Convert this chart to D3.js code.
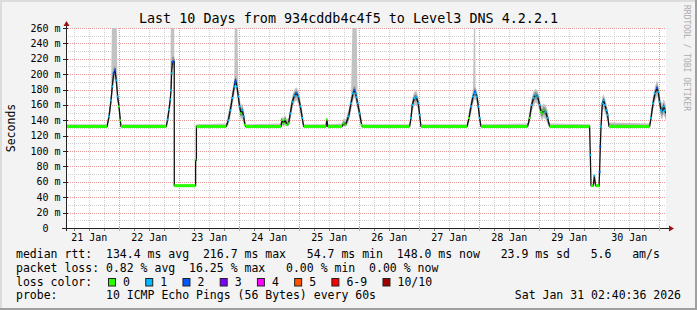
<!DOCTYPE html>
<html>
<head>
<meta charset="utf-8">
<script src="https://cdn.jsdelivr.net/npm/d3@7"></script>
<style>
  html, body { margin: 0; padding: 0; background: #f3f3f3; }
  svg text { font-family: "DejaVu Sans Mono", monospace; white-space: pre; }
</style>
</head>
<body>
<svg id="chart" width="697" height="310"></svg>
<script>
const W = 697, H = 310;

const title = "Last 10 Days from 934cddb4c4f5 to Level3 DNS 4.2.2.1";
const rangeStart = "2026-01-21 02:40:36";
const rangeEnd = "2026-01-31 02:40:36";
const yMax = 260;
const dayLabels = ["21 Jan", "22 Jan", "23 Jan", "24 Jan", "25 Jan", "26 Jan", "27 Jan", "28 Jan", "29 Jan", "30 Jan"];
const lossLabels = ["0", "1", "2", "3", "4", "5", "6-9", "10/10"];
const lossColors = ["#26ff00", "#00b8ff", "#0059ff", "#7e00ff", "#ff00ff", "#ff5500", "#ff0000", "#a10000"];
const statsLine = "median rtt:  134.4 ms avg  216.7 ms max   54.7 ms min  148.0 ms now   23.9 ms sd   5.6   am/s";
const lossLine = "packet loss: 0.82 % avg  16.25 % max   0.00 % min  0.00 % now";
const probeLine = "probe:       10 ICMP Echo Pings (56 Bytes) every 60s";
const stampLine = "Sat Jan 31 02:40:36 2026";

// [time "DD HH:MM", median ms, loss level, smoke low ms, smoke high ms]
const jan21 = [
  ["21 02:40", 132, 0, 131, 135], ["21 19:05", 132, 0, 131, 135], ["21 19:53", 145, 1, 137, 152],
  ["21 20:41", 166, 1, 156, 175], ["21 21:12", 184, 1, 174, 300], ["21 21:43", 201, 2, 190, 300],
  ["21 22:17", 205, 2, 194, 300], ["21 22:48", 192, 1, 182, 300], ["21 23:19", 171, 1, 162, 181],
  ["21 23:53", 158, 0, 149, 167]
];
const jan22 = [
  ["22 00:24", 140, 0, 134, 148], ["22 00:41", 132, 0, 131, 135], ["22 18:48", 132, 0, 131, 135],
  ["22 19:19", 141, 1, 136, 148], ["22 19:53", 154, 1, 146, 162], ["22 20:24", 167, 1, 158, 176],
  ["22 20:41", 179, 1, 170, 300], ["22 20:55", 201, 1, 190, 300], ["22 21:12", 216, 2, 206, 300],
  ["22 21:43", 216.7, 2, 208, 300], ["22 21:58", 216.7, 2, 208, 300], ["22 22:00", 55, 0, 54.7, 57]
];
const jan23 = [
  ["23 06:31", 55, 0, 54.7, 57], ["23 06:32", 88, 0, 88, 88], ["23 06:50", 88, 0, 88, 88],
  ["23 06:51", 132, 0, 131, 135], ["23 18:48", 132, 0, 131, 136], ["23 19:36", 140, 1, 134, 150],
  ["23 20:24", 153, 1, 144, 163], ["23 21:12", 169, 1, 159, 179], ["23 22:00", 184, 1, 174, 194],
  ["23 22:15", 189, 2, 179, 300], ["23 22:31", 191.5, 2, 182, 300], ["23 23:05", 184, 1, 174, 300],
  ["23 23:36", 171, 1, 161, 180]
];
const jan24 = [
  ["24 00:07", 158, 1, 148, 168], ["24 00:41", 149, 0, 140, 160], ["24 01:12", 153, 1, 143, 162],
  ["24 01:43", 145, 1, 136, 154], ["24 02:17", 134, 0, 132, 141], ["24 02:31", 132, 0, 131, 135],
  ["24 16:40", 132, 0, 131, 136], ["24 17:00", 140, 0, 134, 145], ["24 17:40", 136, 0, 132, 143],
  ["24 18:20", 141, 0, 134, 147], ["24 19:00", 134, 0, 132, 141], ["24 19:43", 136, 0, 132, 143],
  ["24 20:24", 149, 1, 140, 158], ["24 21:12", 164, 1, 154, 172], ["24 22:00", 172, 1, 163, 180],
  ["24 22:48", 175, 2, 166, 183], ["24 23:36", 171, 1, 162, 179]
];
const jan25 = [
  ["25 00:24", 158, 1, 148, 167], ["25 01:12", 143, 1, 136, 152], ["25 01:43", 132, 0, 131, 135],
  ["25 10:40", 132, 0, 131, 135], ["25 11:00", 141, 0, 132, 145], ["25 11:25", 132, 0, 131, 135],
  ["25 17:05", 132, 0, 131, 136], ["25 17:40", 136, 0, 132, 142], ["25 18:30", 134, 0, 132, 141],
  ["25 19:43", 145, 1, 137, 154], ["25 20:41", 162, 1, 152, 172], ["25 21:29", 175, 1, 165, 300],
  ["25 22:00", 179, 2, 170, 300], ["25 22:31", 175, 1, 166, 300], ["25 22:48", 170, 1, 161, 300],
  ["25 23:19", 162, 1, 153, 170]
];
const jan26 = [
  ["26 00:07", 149, 1, 140, 158], ["26 00:55", 134, 0, 132, 141], ["26 01:12", 132, 0, 131, 135],
  ["26 20:07", 132, 0, 131, 135], ["26 20:41", 143, 1, 136, 152], ["26 21:12", 160, 1, 150, 168],
  ["26 22:00", 169, 1, 159, 177], ["26 22:48", 170, 1, 160, 178], ["26 23:36", 162, 1, 153, 170]
];
const jan27 = [
  ["27 00:07", 147, 1, 139, 156], ["27 00:41", 132, 0, 131, 135], ["27 19:05", 132, 0, 131, 135],
  ["27 19:53", 143, 0, 136, 152], ["27 20:41", 158, 1, 148, 167], ["27 21:29", 171, 1, 161, 179],
  ["27 22:00", 175, 1, 166, 300], ["27 22:17", 177, 2, 168, 300], ["27 22:30", 175, 1, 166, 183],
  ["27 23:05", 171, 1, 162, 179], ["27 23:36", 158, 1, 149, 167]
];
const jan28 = [
  ["28 00:07", 143, 1, 136, 152], ["28 00:41", 132, 0, 131, 135], ["28 19:19", 132, 0, 131, 136],
  ["28 20:07", 143, 0, 136, 152], ["28 20:55", 160, 1, 150, 169], ["28 21:43", 169, 1, 159, 178],
  ["28 22:31", 173, 1, 163, 181], ["28 23:19", 171, 1, 161, 179]
];
const jan29 = [
  ["29 00:07", 160, 1, 150, 169], ["29 00:41", 151, 0, 142, 160], ["29 01:12", 149, 0, 140, 159],
  ["29 01:43", 153, 0, 144, 162], ["29 02:31", 151, 1, 141, 160], ["29 03:19", 143, 1, 135, 153],
  ["29 04:07", 132, 0, 131, 136], ["29 20:07", 132, 0, 131, 135], ["29 20:24", 95, 1, 95, 95],
  ["29 20:41", 55, 0, 54.7, 57], ["29 21:36", 55, 0, 54.7, 57], ["29 22:00", 68, 1, 60, 68],
  ["29 22:31", 55, 0, 54.7, 57], ["29 23:53", 55, 0, 54.7, 57]
];
const jan30 = [
  ["30 00:07", 73, 2, 73, 73], ["30 00:24", 106, 2, 106, 106], ["30 00:41", 132, 1, 130, 142],
  ["30 01:12", 162, 1, 150, 170], ["30 01:43", 166, 1, 155, 174], ["30 02:17", 160, 1, 150, 169],
  ["30 02:48", 153, 1, 144, 162], ["30 03:19", 147, 1, 138, 156], ["30 03:53", 132, 0, 131, 137],
  ["30 20:07", 132, 0, 131, 136], ["30 20:41", 143, 1, 136, 152], ["30 21:29", 162, 1, 152, 172],
  ["30 22:17", 175, 1, 165, 184], ["30 23:05", 182, 2, 172, 192], ["30 23:36", 177, 1, 167, 186]
];
const jan31 = [
  ["31 00:07", 164, 1, 154, 174], ["31 00:41", 153, 1, 143, 164], ["31 01:12", 151, 1, 141, 162],
  ["31 01:43", 158, 1, 148, 167], ["31 02:17", 153, 1, 143, 164], ["31 02:40", 148, 1, 138, 158]
];

const parseT = d3.timeParse("%Y-%m-%d %H:%M");
const parseFull = d3.timeParse("%Y-%m-%d %H:%M:%S");
const rows = [].concat(jan21, jan22, jan23, jan24, jan25, jan26, jan27, jan28, jan29, jan30, jan31)
  .map(r => ({ t: parseT("2026-01-" + r[0]), med: r[1], loss: r[2], lo: r[3], hi: r[4] }));

// plot box
const L = 66, R = 666, T = 28, B = 228;
const x = d3.scaleTime().domain([parseFull(rangeStart), parseFull(rangeEnd)]).range([L, R]);
const y = d3.scaleLinear().domain([0, yMax]).range([B, T]);
const px = v => Math.round(v) + 0.5;

const svg = d3.select("#chart");

// background + 3d frame
svg.append("rect").attr("width", W).attr("height", H).attr("fill", "#f3f3f3");
svg.append("rect").attr("width", W).attr("height", 2).attr("fill", "#dcdcdc");
svg.append("rect").attr("width", 2).attr("height", H).attr("fill", "#dcdcdc");
svg.append("rect").attr("y", H - 2).attr("width", W).attr("height", 2).attr("fill", "#9f9f9f");
svg.append("rect").attr("x", W - 2).attr("width", 2).attr("height", H).attr("fill", "#9f9f9f");

svg.append("rect").attr("x", L).attr("y", T).attr("width", R - L).attr("height", B - T).attr("fill", "#fff");

svg.append("clipPath").attr("id", "plotclip")
  .append("rect").attr("x", L).attr("y", T).attr("width", R - L).attr("height", B - T);

// grid
const grid = svg.append("g").attr("fill", "none").attr("stroke-dasharray", "1,1");
const hour6 = x.ticks(d3.timeHour.every(6)).filter(d => d.getHours() !== 0);
const days = x.ticks(d3.timeDay.every(1));
grid.selectAll("line.vmin").data(hour6).join("line")
  .attr("x1", d => px(x(d))).attr("x2", d => px(x(d))).attr("y1", T).attr("y2", B)
  .attr("stroke", "#cfcfcf");
const yTicks = y.ticks(26).filter(v => v > 0);
grid.selectAll("line.hmin").data(yTicks.filter(v => v % 20 !== 0)).join("line")
  .attr("x1", L).attr("x2", R).attr("y1", d => px(y(d))).attr("y2", d => px(y(d)))
  .attr("stroke", "#cfcfcf");
grid.selectAll("line.vmaj").data(days).join("line")
  .attr("x1", d => px(x(d))).attr("x2", d => px(x(d))).attr("y1", T).attr("y2", B)
  .attr("stroke", "#e89999");
grid.selectAll("line.hmaj").data(yTicks.filter(v => v % 20 === 0)).join("line")
  .attr("x1", L).attr("x2", R).attr("y1", d => px(y(d))).attr("y2", d => px(y(d)))
  .attr("stroke", "#e89999");

// smoke
const plot = svg.append("g").attr("clip-path", "url(#plotclip)");
plot.append("path").datum(rows)
  .attr("fill", "#c2c2c2")
  .attr("d", d3.area().x(d => x(d.t)).y0(d => y(d.lo)).y1(d => y(d.hi)));
plot.append("path").datum(rows)
  .attr("fill", "#8a8a8a")
  .attr("d", d3.area().x(d => x(d.t))
    .y0(d => y(d.med - (d.med - d.lo) * 0.5))
    .y1(d => y(d.med + Math.min(d.hi - d.med, 12) * 0.5)));

// median line
plot.append("path").datum(rows)
  .attr("fill", "none").attr("stroke", "#111").attr("stroke-width", 1.3)
  .attr("d", d3.line().x(d => x(d.t)).y(d => y(d.med)));

// loss coloured median
const flat = [];
const dots = [];
rows.forEach((d, i) => {
  const n = rows[i + 1];
  if (n && n.med === d.med && n.loss === d.loss) flat.push([d, n]);
  const p = rows[i - 1];
  const inFlat = (n && n.med === d.med) || (p && p.med === d.med);
  if (!inFlat) dots.push(d);
});
plot.selectAll("line.flat").data(flat).join("line")
  .attr("x1", d => x(d[0].t)).attr("x2", d => x(d[1].t))
  .attr("y1", d => y(d[0].med)).attr("y2", d => y(d[1].med))
  .attr("stroke", d => lossColors[d[0].loss]).attr("stroke-width", 3);
plot.selectAll("rect.dot").data(dots).join("rect")
  .attr("x", d => x(d.t) - 1).attr("y", d => y(d.med) - 1)
  .attr("width", 2).attr("height", 2)
  .attr("fill", d => lossColors[d.loss]);

// axes
const axis = svg.append("g");
axis.append("line").attr("x1", L - 4).attr("x2", R + 4).attr("y1", B + 0.5).attr("y2", B + 0.5)
  .attr("stroke", "#222");
axis.append("line").attr("x1", L + 0.5).attr("x2", L + 0.5).attr("y1", B + 3).attr("y2", T - 4)
  .attr("stroke", "#222");
axis.selectAll("line.yt").data(yTicks.filter(v => v % 20 === 0).concat([0])).join("line")
  .attr("x1", L - 3).attr("x2", L + 2).attr("y1", d => px(y(d))).attr("y2", d => px(y(d)))
  .attr("stroke", "#222");
axis.selectAll("line.xt").data(hour6).join("line")
  .attr("x1", d => px(x(d))).attr("x2", d => px(x(d))).attr("y1", B + 1).attr("y2", B + 3)
  .attr("stroke", "#888");
axis.selectAll("line.xd").data(days).join("line")
  .attr("x1", d => px(x(d))).attr("x2", d => px(x(d))).attr("y1", B - 2).attr("y2", B + 3)
  .attr("stroke", "#e89999");
axis.append("path").attr("d", `M${L + 0.5},${T - 7} L${L - 2.5},${T - 2} L${L + 3.5},${T - 2} Z`)
  .attr("fill", "#9b1010");
axis.append("path").attr("d", `M${R + 8},${B + 0.5} L${R + 3},${B - 2.5} L${R + 3},${B + 3.5} Z`)
  .attr("fill", "#9b1010");

// y labels
svg.append("g").attr("font-size", 10).attr("text-anchor", "end")
  .selectAll("text").data(yTicks.filter(v => v % 20 === 0).concat([0])).join("text")
  .attr("x", d => d === 0 ? 48.5 : 60.5)
  .attr("y", d => y(d) + 3.5)
  .text(d => d === 0 ? "0" : d + " m");

// x labels at noon
svg.append("g").attr("font-size", 10).attr("text-anchor", "middle")
  .selectAll("text").data(dayLabels).join("text")
  .attr("x", (d, i) => x(d3.timeHour.offset(days[0], 12 + 24 * (i - 1))))
  .attr("y", 241)
  .text(d => d);

// title, unit, watermark
svg.append("text").attr("x", W / 2).attr("y", 23).attr("text-anchor", "middle")
  .attr("font-size", 13.4).text(title);
svg.append("text").attr("transform", `translate(15,${(T + B) / 2}) rotate(-90)`)
  .attr("text-anchor", "middle").attr("font-size", 11.5).text("Seconds");
svg.append("text").attr("transform", "translate(684,5) rotate(90)")
  .attr("font-size", 8).attr("fill", "#ababab").text("RRDTOOL / TOBI OETIKER");

// legend
const lg = svg.append("g").attr("font-size", 11.5);
const cw = 6.93;
lg.append("text").attr("x", 16).attr("y", 258).text(statsLine);
lg.append("text").attr("x", 16).attr("y", 271.8).text(lossLine);
lg.append("text").attr("x", 16).attr("y", 285.6).text("loss color:");
let bx = 108;
lossLabels.forEach((lab, i) => {
  lg.append("rect").attr("x", bx + 0.5).attr("y", 278.5).attr("width", 7).attr("height", 7.5)
    .attr("fill", lossColors[i]).attr("stroke", "#222").attr("stroke-width", 1);
  lg.append("text").attr("x", bx + 15).attr("y", 285.6).text(lab);
  bx += 15 + lab.length * cw + 15.3;
});
lg.append("text").attr("x", 16).attr("y", 299.4).text(probeLine);
lg.append("text").attr("x", 681).attr("y", 299.4).attr("text-anchor", "end").text(stampLine);
</script>
</body>
</html>
